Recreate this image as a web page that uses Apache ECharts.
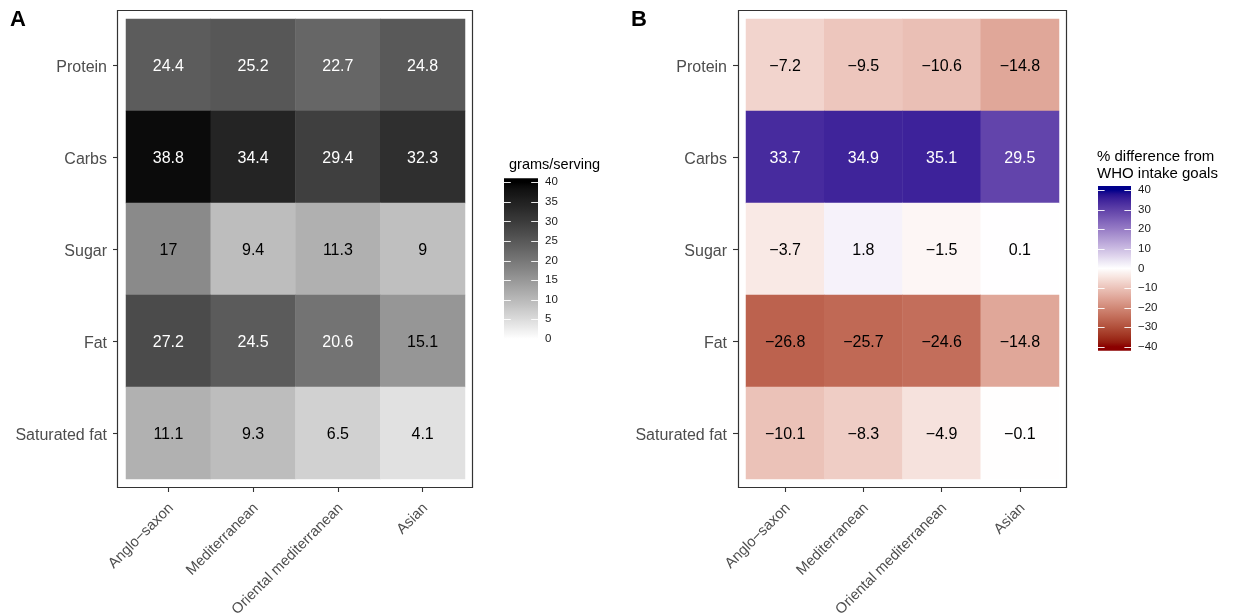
<!DOCTYPE html>
<html>
<head>
<meta charset="utf-8">
<script src="https://cdn.jsdelivr.net/npm/echarts@6/dist/echarts.min.js"></script>
<style>
  html, body { margin: 0; padding: 0; background: #fff; }
  #chart { width: 1233px; height: 615px; }
</style>
</head>
<body>
<div id="chart"></div>
<script>
// Diets (columns) and nutrients (rows, top to bottom)
const diets = ['Anglo\u2212saxon', 'Mediterranean', 'Oriental mediterranean', 'Asian'];
const nutrients = ['Protein', 'Carbs', 'Sugar', 'Fat', 'Saturated fat'];

// Panel A: grams per serving, one array per nutrient (in diet order)
const gramsProtein  = [24.4, 25.2, 22.7, 24.8];
const gramsCarbs    = [38.8, 34.4, 29.4, 32.3];
const gramsSugar    = [17, 9.4, 11.3, 9];
const gramsFat      = [27.2, 24.5, 20.6, 15.1];
const gramsSatFat   = [11.1, 9.3, 6.5, 4.1];

// Panel B: % difference from WHO intake goals
const whoProtein = [-7.2, -9.5, -10.6, -14.8];
const whoCarbs   = [33.7, 34.9, 35.1, 29.5];
const whoSugar   = [-3.7, 1.8, -1.5, 0.1];
const whoFat     = [-26.8, -25.7, -24.6, -14.8];
const whoSatFat  = [-10.1, -8.3, -4.9, -0.1];

// Colour bar breaks
const gramsBreaks = [0, 5, 10, 15, 20, 25, 30, 35, 40];
const whoBreaks = [-40, -30, -20, -10, 0, 10, 20, 30, 40];

const gramsRows = [gramsProtein, gramsCarbs, gramsSugar, gramsFat, gramsSatFat];
const whoRows = [whoProtein, whoCarbs, whoSugar, whoFat, whoSatFat];

// ---- CIE Lab colour interpolation (D65) ----
function hexToRgb(h) { h = h.replace('#', ''); return [0, 2, 4].map(i => parseInt(h.substr(i, 2), 16)); }
function toLin(c) { c /= 255; return c <= 0.04045 ? c / 12.92 : Math.pow((c + 0.055) / 1.055, 2.4); }
function fromLin(c) { c = c <= 0.0031308 ? 12.92 * c : 1.055 * Math.pow(c, 1 / 2.4) - 0.055; return Math.round(Math.max(0, Math.min(1, c)) * 255); }
const WN = [0.95047, 1.0, 1.08883];
function rgbToLab(rgb) {
  const [r, g, b] = rgb.map(toLin);
  const X = (0.4124564 * r + 0.3575761 * g + 0.1804375 * b) / WN[0];
  const Y = (0.2126729 * r + 0.7151522 * g + 0.0721750 * b) / WN[1];
  const Z = (0.0193339 * r + 0.1191920 * g + 0.9503041 * b) / WN[2];
  const f = t => t > 216 / 24389 ? Math.cbrt(t) : (24389 / 27 * t + 16) / 116;
  const fx = f(X), fy = f(Y), fz = f(Z);
  return [116 * fy - 16, 500 * (fx - fy), 200 * (fy - fz)];
}
function labToRgb(lab) {
  const [L, a, b] = lab;
  const fy = (L + 16) / 116, fx = fy + a / 500, fz = fy - b / 200;
  const inv = t => t * t * t > 216 / 24389 ? t * t * t : (116 * t - 16) / (24389 / 27);
  const X = inv(fx) * WN[0], Y = inv(fy) * WN[1], Z = inv(fz) * WN[2];
  const r = 3.2404542 * X - 1.5371385 * Y - 0.4985314 * Z;
  const g = -0.9692660 * X + 1.8760108 * Y + 0.0415560 * Z;
  const bb = 0.0556434 * X - 0.2040259 * Y + 1.0572252 * Z;
  return 'rgb(' + fromLin(r) + ',' + fromLin(g) + ',' + fromLin(bb) + ')';
}
function labMix(c1, c2, t) {
  const a = rgbToLab(hexToRgb(c1)), b = rgbToLab(hexToRgb(c2));
  return labToRgb([0, 1, 2].map(i => a[i] + (b[i] - a[i]) * t));
}
// sequential white -> black over [0, 40]
function gramsPal(v) { v = Math.max(0, Math.min(40, v)); return labMix('#FFFFFF', '#000000', v / 40); }
// diverging darkred -> white -> darkblue over [-40, 40]
function whoPal(v) {
  v = Math.max(-40, Math.min(40, v));
  return v >= 0 ? labMix('#FFFFFF', '#00008B', v / 40) : labMix('#FFFFFF', '#8B0000', -v / 40);
}
function stops(pal, lo, hi, n) {
  const out = [];
  for (let i = 0; i <= n; i++) out.push(pal(lo + (hi - lo) * i / n));
  return out;
}

const FONT = "'Liberation Sans', Arial, sans-serif";
const minus = v => String(v).replace('-', '\u2212');

function cells(rows) {
  const out = [];
  rows.forEach((row, r) => row.forEach((v, c) => {
    out.push({ value: [c, r, v], label: { color: v > 19 ? '#ffffff' : '#000000' } });
  }));
  return out;
}

// Tile areas and panel frames
const panels = [
  { left: 126, top: 19, width: 339, height: 460, frame: [117.5, 10.5, 355, 477] },
  { left: 746, top: 19, width: 313, height: 460, frame: [738.5, 10.5, 328, 477] }
];
// Colour bar layout: grid spans the break range, bar overhangs by 2.5% each side
const bars = [
  { left: 504, width: 34, top: 182.3, height: 156.4, min: 0, max: 40, pal: gramsPal, breaks: gramsBreaks },
  { left: 1098, width: 33, top: 190, height: 156.7, min: -40, max: 40, pal: whoPal, breaks: whoBreaks }
];

const grids = [], xAxes = [], yAxes = [], series = [];
panels.forEach((p, i) => {
  grids.push({ left: p.left, top: p.top, width: p.width, height: p.height,
               containLabel: false, outerBoundsMode: 'none' });
  xAxes.push({
    type: 'category', gridIndex: i, data: diets, offset: 8, position: 'bottom',
    axisLine: { show: false },
    axisTick: { show: true, alignWithLabel: true, length: 5, lineStyle: { color: '#333', width: 1.1 } },
    axisLabel: {
      interval: 0, rotate: 45, margin: 16,
      formatter: v => '{t|' + v + '}',
      rich: { t: { padding: [8, 0, 0, 0], color: '#4d4d4d', fontSize: 14.7, fontFamily: FONT } }
    },
    splitLine: { show: false }, z: 5
  });
  yAxes.push({
    type: 'category', gridIndex: i, data: nutrients, inverse: true, offset: 8,
    axisLine: { show: false },
    axisTick: { show: true, alignWithLabel: true, length: 5, lineStyle: { color: '#333', width: 1.1 } },
    axisLabel: {
      interval: 0, margin: 11,
      formatter: v => '{t|' + v + '}',
      rich: { t: { padding: [6, 0, 0, 0], color: '#4d4d4d', fontSize: 16, fontFamily: FONT } }
    },
    splitLine: { show: false }, z: 5
  });
});

const cellLabel = { show: true, fontSize: 16, fontFamily: FONT, offset: [0, 2], formatter: p => minus(p.value[2]) };
series.push({
  type: 'heatmap', xAxisIndex: 0, yAxisIndex: 0, data: cells(gramsRows),
  label: cellLabel, itemStyle: { borderWidth: 0 }, emphasis: { disabled: true }
});
series.push({
  type: 'heatmap', xAxisIndex: 1, yAxisIndex: 1, data: cells(whoRows),
  label: cellLabel, itemStyle: { borderWidth: 0 }, emphasis: { disabled: true }
});

// Colour bars: a grid each, with a value axis carrying the break labels
bars.forEach((b) => {
  const gi = grids.length;
  grids.push({ left: b.left, top: b.top, width: b.width, height: b.height, outerBoundsMode: 'none' });
  const xi = xAxes.length;
  xAxes.push({ type: 'value', gridIndex: gi, min: 0, max: 1, show: false });
  const step = b.breaks[1] - b.breaks[0];
  const yi = yAxes.length;
  yAxes.push({
    type: 'value', gridIndex: gi, position: 'right', min: b.min, max: b.max, interval: step,
    axisLine: { show: false }, splitLine: { show: false }, axisTick: { show: false },
    axisLabel: { margin: 7, color: '#1a1a1a', fontSize: 11.5, fontFamily: FONT, formatter: v => minus(v) }
  });
  const over = (b.max - b.min) * 0.025 / 0.95;
  const lo = b.min - over, hi = b.max + over;
  const nStops = 40;
  const colorStops = [];
  for (let i = 0; i <= nStops; i++) {
    colorStops.push({ offset: i / nStops, color: b.pal(hi - (hi - lo) * i / nStops) });
  }
  series.push({
    type: 'custom', xAxisIndex: xi, yAxisIndex: yi, clip: false, z: 1, silent: true,
    data: [[0, 0]],
    renderItem: (params, api) => {
      const cs = params.coordSys;
      const yTop = api.coord([0, hi])[1];
      const yBot = api.coord([0, lo])[1];
      const children = [{
        type: 'rect',
        shape: { x: cs.x, y: yTop, width: cs.width, height: yBot - yTop },
        style: { fill: new echarts.graphic.LinearGradient(0, 0, 0, 1, colorStops) }
      }];
      const tickLen = cs.width / 5;
      b.breaks.forEach(v => {
        const y = Math.round(api.coord([0, v])[1]) + 0.5;
        children.push({ type: 'line', shape: { x1: cs.x, y1: y, x2: cs.x + tickLen, y2: y },
                        style: { stroke: 'rgba(255,255,255,0.9)', lineWidth: 1 } });
        children.push({ type: 'line', shape: { x1: cs.x + cs.width - tickLen, y1: y, x2: cs.x + cs.width, y2: y },
                        style: { stroke: 'rgba(255,255,255,0.9)', lineWidth: 1 } });
      });
      return { type: 'group', children };
    }
  });
});

const chart = echarts.init(document.getElementById('chart'), null, { renderer: 'canvas' });
chart.setOption({
  backgroundColor: '#ffffff',
  animation: false,
  textStyle: { fontFamily: FONT },
  grid: grids,
  xAxis: xAxes,
  yAxis: yAxes,
  visualMap: [
    { type: 'continuous', show: false, seriesIndex: 0, dimension: 2, min: 0, max: 40,
      inRange: { color: stops(gramsPal, 0, 40, 40) } },
    { type: 'continuous', show: false, seriesIndex: 1, dimension: 2, min: -40, max: 40,
      inRange: { color: stops(whoPal, -40, 40, 80) } }
  ],
  series: series,
  graphic: [
    { type: 'rect', z: 10, silent: true,
      shape: { x: panels[0].frame[0], y: panels[0].frame[1], width: panels[0].frame[2], height: panels[0].frame[3] },
      style: { fill: 'none', stroke: '#333333', lineWidth: 1.2 } },
    { type: 'rect', z: 10, silent: true,
      shape: { x: panels[1].frame[0], y: panels[1].frame[1], width: panels[1].frame[2], height: panels[1].frame[3] },
      style: { fill: 'none', stroke: '#333333', lineWidth: 1.2 } },
    { type: 'text', left: 10, top: 9, style: { text: 'A', font: 'bold 22px ' + FONT, fill: '#000' } },
    { type: 'text', left: 631, top: 9, style: { text: 'B', font: 'bold 22px ' + FONT, fill: '#000' } },
    { type: 'text', left: 509, top: 157, style: { text: 'grams/serving', font: '14.5px ' + FONT, fill: '#000' } },
    { type: 'text', left: 1097, top: 149, style: { text: '% difference from\nWHO intake goals', font: '15px ' + FONT, fill: '#000', lineHeight: 16.5 } }
  ]
});
</script>
</body>
</html>
